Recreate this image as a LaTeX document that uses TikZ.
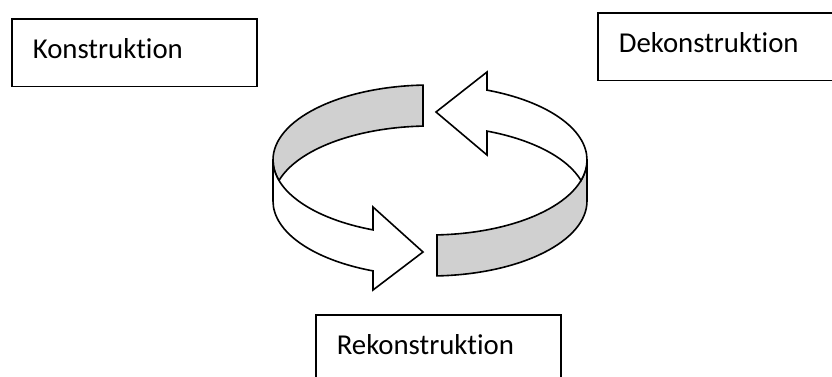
\documentclass[tikz,border=0pt]{standalone}
\usepackage{fontspec}
\setmainfont{Carlito}[Ligatures=NoCommon]
\usepackage{tikz}
\definecolor{ringgray}{RGB}{208,208,208}
\tikzset{
    stagebox/.style={draw, line width=1.6pt, anchor=north west, inner xsep=21pt, inner ysep=0pt,
        text width=203pt, align=left, text height=39.5pt, text depth=28pt,
        font=\fontsize{28.8}{34}\selectfont}, % Textfeld
    band/.style={draw, line width=1.6pt, line join=miter} % Ringband
}

\begin{document}
\begin{tikzpicture}[x=1pt, y=-1pt]
    \def\rx{157} \def\ry{75} \def\h{41}
    \useasboundingbox (0,0) rectangle (832,376);
    \clip (0,0) rectangle (832,376);

    % hinten links, grau
    \filldraw[band, fill=ringgray] (273,160) arc[start angle=180, end angle=267.44, x radius=\rx, y radius=\ry] -- ++(0,\h)
        arc[start angle=267.44, end angle=195.86, x radius=\rx, y radius=\ry]
        arc[start angle=164.14, end angle=180, x radius=\rx, y radius=\ry] -- cycle;
    % vorne links mit Pfeilspitze
    \filldraw[band, fill=white] (273,160) arc[start angle=180, end angle=111.29, x radius=\rx, y radius=\ry]
        -- (373,207) -- (423,252) -- (373,290) -- (373,270.9)
        arc[start angle=111.29, end angle=180, x radius=\rx, y radius=\ry] -- cycle;
    % vorne rechts, grau
    \filldraw[band, fill=ringgray] (437,234.9) -- ++(0,\h) arc[start angle=87.44, end angle=0, x radius=\rx, y radius=\ry]
        -- ++(0,-\h) arc[start angle=0, end angle=87.44, x radius=\rx, y radius=\ry] -- cycle;
    % hinten rechts mit Pfeilspitze
    \filldraw[band, fill=white] (487,90.1) arc[start angle=-68.71, end angle=0, x radius=\rx, y radius=\ry]
        arc[start angle=0, end angle=15.86, x radius=\rx, y radius=\ry]
        arc[start angle=-15.86, end angle=-68.71, x radius=\rx, y radius=\ry]
        -- (487,155) -- (436,112) -- (487,72) -- cycle;

    \node[stagebox] (kon) at (11,18) {Konstruktion};
    \node[stagebox] (dek) at (597,12) {Dekonstruktion};
    \node[stagebox] (rek) at (315,314) {Rekonstruktion};
\end{tikzpicture}
\end{document}
